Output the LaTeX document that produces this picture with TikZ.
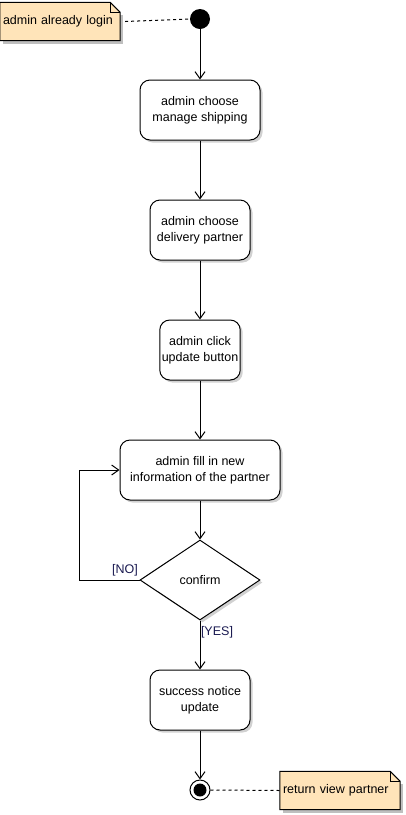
\documentclass[tikz,border=0pt]{standalone}
\usepackage{fontspec}
\setmainfont{Liberation Sans}
\usepackage{xcolor}
\usetikzlibrary{arrows.meta,shapes.geometric,shadows,backgrounds}

\definecolor{notefill}{RGB}{255,228,185}
\definecolor{guardblue}{RGB}{25,25,80}

\tikzset{
  every node/.style={font=\fontsize{12.5}{16}\selectfont},
  action/.style={draw, line width=1pt, rounded corners=10pt, fill=white,
    minimum height=60pt, align=center, inner sep=2pt,
    drop shadow={shadow xshift=2.5pt, shadow yshift=-2.5pt, fill=black!30, opacity=0.6}},
  decision/.style={draw, line width=1pt, diamond, fill=white, inner sep=0pt,
    minimum width=120pt, minimum height=80pt,
    drop shadow={shadow xshift=2.5pt, shadow yshift=-2.5pt, fill=black!30, opacity=0.6}},
  note/.style={minimum width=120pt, minimum height=38pt, inner sep=3pt,
    text width=114pt, align=left},
  guard/.style={text=guardblue, inner sep=1pt},
  flow/.style={->, line width=1pt},
  link/.style={dashed, dash pattern=on 3pt off 3pt, line width=1pt},
  >={Straight Barb[length=7pt,width=10pt]}
}

\begin{document}
\begin{tikzpicture}[x=1pt, y=-1pt]
        \useasboundingbox (0,0) rectangle (405,815);
        % start and end
        \node[circle, fill=black, minimum size=20pt, inner sep=0pt] (start) at (200,19) {};
        \node[circle, draw, line width=1pt, fill=white, minimum size=20pt, inner sep=0pt,
            path picture={\fill[black] (path picture bounding box.center) circle (6.5pt);}] (stop) at (200,790) {};
        % actions
        \node[action, minimum width=120pt] (manage) at (200,110) {admin choose\\manage shipping};
        \node[action, minimum width=100pt] (partner) at (200,230) {admin choose\\delivery partner};
        \node[action, minimum width=80pt] (update) at (200,350) {admin click\\update button};
        \node[action, minimum width=160pt] (fill) at (200,470) {admin fill in new\\information of the partner};
        \node[decision] (confirm) at (200,580) {confirm};
        \node[action, minimum width=100pt] (success) at (200,700) {success notice\\update};
        % guards
        \node[guard] (no) at (125,570) {[NO]};
        \node[guard] (yes) at (217,632) {[YES]};
        % notes
        \node[note] (login) at (60,21.5) {admin already login};
        \node[note] (back) at (340,790.5) {return view partner};
        \begin{scope}[on background layer]
            \fill[black!25] ([shift={(3pt,-3pt)}]login.south west) rectangle ([shift={(3pt,-13pt)}]login.north east);
            \fill[black!25] ([shift={(3pt,-3pt)}]back.south west) rectangle ([shift={(3pt,-13pt)}]back.north east);
            \filldraw[fill=notefill, line width=1pt] (login.south west) -- (login.north west)
                -- ([xshift=-10pt]login.north east) -- ([yshift=-10pt]login.north east)
                -- (login.south east) -- cycle;
            \draw[line width=1pt] ([xshift=-10pt]login.north east) -- ([shift={(-10pt,-10pt)}]login.north east)
                -- ([yshift=-10pt]login.north east);
            \filldraw[fill=notefill, line width=1pt] (back.south west) -- (back.north west)
                -- ([xshift=-10pt]back.north east) -- ([yshift=-10pt]back.north east)
                -- (back.south east) -- cycle;
            \draw[line width=1pt] ([xshift=-10pt]back.north east) -- ([shift={(-10pt,-10pt)}]back.north east)
                -- ([yshift=-10pt]back.north east);
        \end{scope}
        % flow
        \draw[flow] (start) -- (manage);
        \draw[flow] (manage) -- (partner);
        \draw[flow] (partner) -- (update);
        \draw[flow] (update) -- (fill);
        \draw[flow] (fill) -- (confirm);
        \draw[flow] (confirm.west) -- ++(-60,0) |- (fill.west);
        \draw[flow] (confirm.south) -- (success);
        \draw[flow] (success) -- (stop);
        \draw[link] ([xshift=5pt]login.east) -- (start.west);
        \draw[link] (stop.east) -- (back.west);
\end{tikzpicture}
\end{document}
